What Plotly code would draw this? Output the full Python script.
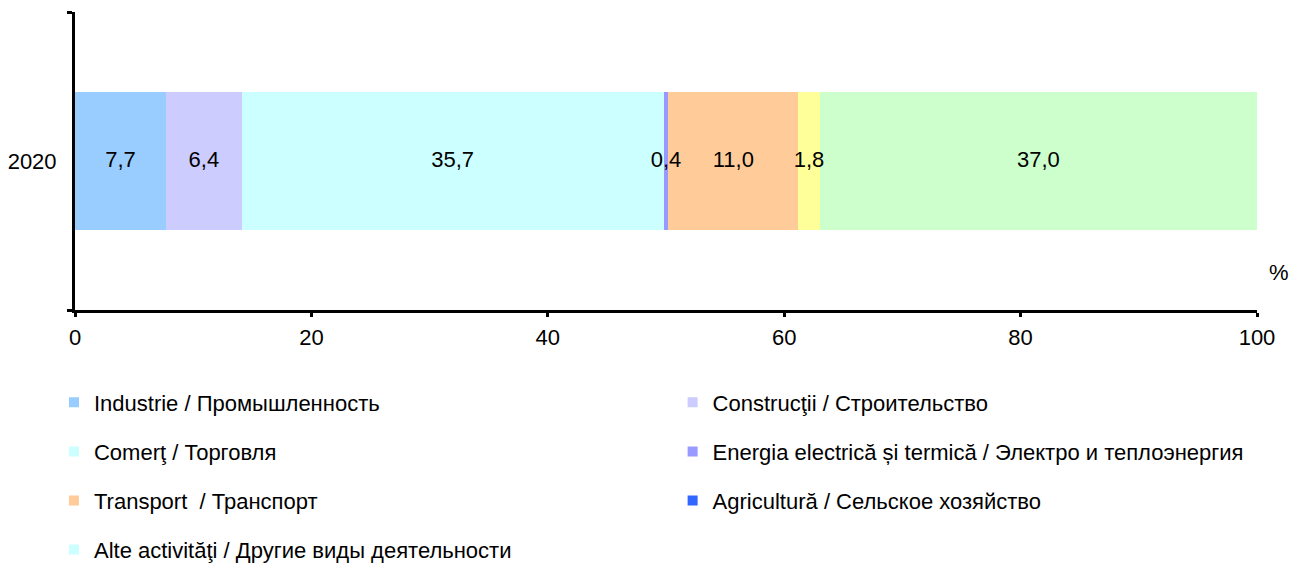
import plotly.graph_objects as go

years = ["2020"]
sectors = [
    "Industrie / Промышленность",
    "Construcţii / Строительство",
    "Comerţ / Торговля",
    "Energia electrică și termică / Электро и теплоэнергия",
    "Transport  / Транспорт",
    "Agricultură / Сельское хозяйство",
    "Alte activităţi / Другие виды деятельности",
]
values = [7.7, 6.4, 35.7, 0.4, 11.0, 1.8, 37.0]
bar_colors = ["#99CCFF", "#CCCCFF", "#CCFFFF", "#9999FF", "#FFCC99", "#FFFF99", "#CCFFCC"]
legend_colors = ["#99CCFF", "#CCCCFF", "#CCFFFF", "#9999FF", "#FFCC99", "#3366FF", "#CCFFFF"]

FONT = "Arial, Liberation Sans, sans-serif"
FS = 22

fig = go.Figure()
for name, v, c in zip(sectors, values, bar_colors):
    fig.add_trace(go.Bar(
        y=years, x=[v], orientation="h", name=name,
        marker=dict(color=c, line=dict(width=0)),
        showlegend=False, hoverinfo="skip",
    ))

# data labels drawn on top of all bar segments (centre of each segment)
mids = []
acc = 0.0
for v in values:
    mids.append(acc + v / 2)
    acc += v
fig.add_trace(go.Scatter(
    x=mids, y=years * len(values), mode="text",
    text=[f"{v:.1f}".replace(".", ",") for v in values],
    textposition="middle center",
    textfont=dict(size=FS, family=FONT, color="black"),
    showlegend=False, hoverinfo="skip",
))

# legend entries (the original legend keys use their own colours)
for i, (name, c) in enumerate(zip(sectors, legend_colors)):
    fig.add_trace(go.Scatter(
        x=[None], y=[None], mode="markers", name=name,
        marker=dict(symbol="square", size=10, color=c),
        legend="legend" if i % 2 == 0 else "legend2",
        legendgroup=f"g{i}",
    ))

legend_common = dict(
    orientation="v", yanchor="top", y=-0.2399,
    font=dict(size=FS, family=FONT, color="black"),
    tracegroupgap=17.5, bgcolor="rgba(0,0,0,0)", itemclick=False,
)

fig.update_layout(
    width=1293, height=562,
    margin=dict(l=67, r=44, t=4, b=260, autoexpand=False),
    barmode="stack", bargap=0.54,
    separators=", ",
    plot_bgcolor="white", paper_bgcolor="white",
    font=dict(family=FONT, size=FS, color="black"),
    legend=dict(x=-0.0178, xanchor="left", **legend_common),
    legend2=dict(x=0.5056, xanchor="left", **legend_common),
    xaxis=dict(
        range=[0, 100], dtick=20, tick0=0, showgrid=False, zeroline=False,
        showline=True, linecolor="black", linewidth=3,
        ticks="outside", ticklen=4, tickwidth=3, tickcolor="black",
        ticklabelstandoff=2,
        tickfont=dict(size=FS, family=FONT, color="black"),
    ),
    yaxis=dict(
        type="category", range=[-0.5, 0.5], showgrid=False, zeroline=False,
        showline=True, linecolor="black", linewidth=3,
        ticks="outside", ticklen=5, tickwidth=3, tickcolor="black",
        tickson="boundaries", ticklabelstandoff=11,
        tickfont=dict(size=FS, family=FONT, color="black"),
    ),
    annotations=[dict(
        text="%", xref="paper", yref="paper", x=1.0186, y=0.1275,
        xanchor="center", yanchor="middle",
        showarrow=False, font=dict(size=FS, family=FONT, color="black"),
    )],
)

fig.write_html("out.html")
